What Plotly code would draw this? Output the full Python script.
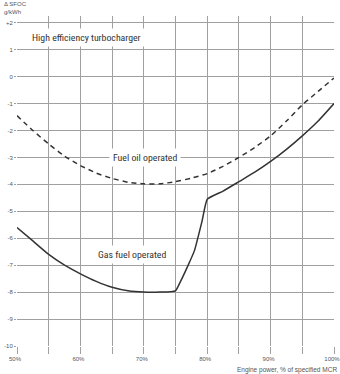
import plotly.graph_objects as go

# Engine power (% of specified MCR)
fuel_x = [50, 52.5, 55, 57.5, 60, 62.5, 65, 67.5, 70, 72.5, 75, 77.5, 80, 82.5, 85, 87.5, 90, 92.5, 95, 97.5, 100]
fuel_y = [-1.45, -2.0, -2.5, -2.95, -3.3, -3.58, -3.78, -3.92, -3.98, -3.98, -3.9, -3.77, -3.6, -3.33, -3.0, -2.63, -2.2, -1.65, -1.05, -0.55, -0.05]

gas_x = [50, 52.5, 55, 57.5, 60, 62.5, 65, 67.5, 70, 72.5, 75, 75.7, 77, 78, 79.2, 80, 82.5, 85, 87.5, 90, 92.5, 95, 97.5, 100]
gas_y = [-5.6, -6.1, -6.6, -7.0, -7.32, -7.6, -7.82, -7.95, -8.0, -8.0, -7.95, -7.65, -7.0, -6.45, -5.35, -4.55, -4.25, -3.9, -3.55, -3.15, -2.7, -2.2, -1.65, -1.0]

x_ticks = [50, 55, 60, 65, 70, 75, 80, 85, 90, 95, 100]
x_labels = ["50%", "", "60%", "", "70%", "", "80%", "", "90%", "", "100%"]
y_ticks = [2, 1, 0, -1, -2, -3, -4, -5, -6, -7, -8, -9, -10]
y_labels = ["+2", "1", "0", "-1", "-2", "-3", "-4", "-5", "-6", "-7", "-8", "-9", "-10"]

LINE = "#333333"
GRID = "#a0a0a0"
TXT = "#333333"
LBL = "Liberation Sans Narrow, Arial Narrow, Roboto Condensed, sans-serif"
SMALL = "Arial, Liberation Sans, sans-serif"

fig = go.Figure()
fig.add_trace(go.Scatter(x=fuel_x, y=fuel_y, mode="lines",
                         line=dict(color=LINE, width=1.5, dash="5px,4px", shape="spline", smoothing=0.6), hoverinfo="skip"))
fig.add_trace(go.Scatter(x=gas_x, y=gas_y, mode="lines",
                         line=dict(color=LINE, width=1.5, shape="spline", smoothing=0.4), hoverinfo="skip"))

ann_font = dict(family=LBL, size=9.8, color=TXT)
fig.add_annotation(x=60.9, y=1.45, xref="x", yref="y", text="High efficiency turbocharger", showarrow=False,
                   font=ann_font, bgcolor="white", borderpad=3)
fig.add_annotation(x=70.2, y=-3.0, xref="x", yref="y", text="Fuel oil operated", showarrow=False,
                   font=ann_font, bgcolor="white", borderpad=3)
fig.add_annotation(x=68.1, y=-6.62, xref="x", yref="y", text="Gas fuel operated", showarrow=False,
                   font=ann_font, bgcolor="white", borderpad=3)
fig.add_annotation(x=1.0158, y=-0.073, xref="paper", yref="paper", xanchor="right", yanchor="middle",
                   text="Engine power, % of specified MCR", showarrow=False,
                   font=dict(family=SMALL, size=6.5, color="#555"))
fig.add_annotation(x=-0.047, y=1.05, xref="paper", yref="paper", xanchor="left", yanchor="top", align="left",
                   text="Δ SFOC<br>g/kWh", showarrow=False, font=dict(family=SMALL, size=6, color="#555"))

fig.update_layout(
    width=340, height=374,
    margin=dict(l=17, r=6, t=16, b=28),
    paper_bgcolor="white", plot_bgcolor="white",
    showlegend=False,
    xaxis=dict(range=[50, 100], tickvals=x_ticks, ticktext=x_labels, showgrid=True, gridcolor=GRID, gridwidth=1,
               zeroline=False, showline=False, ticks="outside", ticklen=7, tickcolor=GRID, tickwidth=1,
               ticklabeloverflow="allow", automargin=False, ticklabelshift=-2,
               tickfont=dict(family=SMALL, size=6, color="#555")),
    yaxis=dict(range=[-10, 2.25], tickvals=y_ticks, ticktext=y_labels, showgrid=True, gridcolor=GRID, gridwidth=1,
               zeroline=False, showline=False, ticks="outside", ticklen=2, tickcolor=GRID, tickwidth=1,
               automargin=False,
               tickfont=dict(family=SMALL, size=6, color="#555")),
)
fig.write_html("out.html")
